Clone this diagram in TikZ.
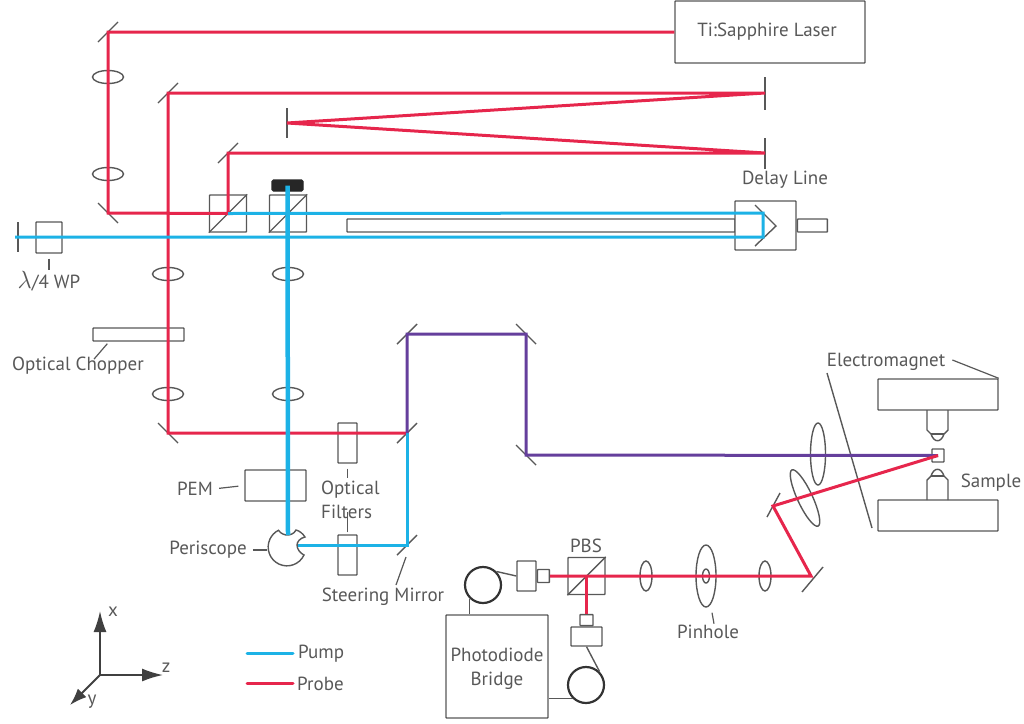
\documentclass[tikz,border=0pt]{standalone}
\usepackage{amsmath,amssymb}
\usepackage{fontspec}
\setmainfont{PT Sans}
\usepackage{tikz}
\usetikzlibrary{arrows.meta, shapes.geometric, positioning, calc}
\definecolor{probered}{HTML}{E6264C}
\definecolor{pumpblue}{HTML}{1CB2E6}
\definecolor{mixpurple}{HTML}{653F9C}
\definecolor{partgray}{HTML}{585858}

\begin{document}
\begin{tikzpicture}[
    x=1pt, y=-1pt,
    box/.style={draw=partgray, line width=1.4pt, inner sep=0pt, rounded corners=0.6pt},
    lens/.style={ellipse, draw=partgray, line width=1.4pt, inner sep=0pt},
    coil/.style={circle, draw=black!80, line width=2.2pt, fill=white, inner sep=0pt, minimum size=36pt},
    part/.style={draw=partgray, line width=1.4pt},
    mirror/.style={draw=partgray, line width=1.4pt},
    leader/.style={draw=partgray, line width=1.2pt},
    probe/.style={draw=probered, line width=3pt},
    pump/.style={draw=pumpblue, line width=3pt},
    pumpthick/.style={draw=pumpblue, line width=4.5pt},
    mixed/.style={draw=mixpurple, line width=3pt},
    lbl/.style={font=\fontsize{19}{24.5}\selectfont, text=partgray, inner sep=0pt}
]
    \useasboundingbox (0,0) rectangle (1024,723);

    % beam turning points
    \coordinate (mTopLeft) at (108,32);
    \coordinate (mLowLeft) at (108,213);
    \coordinate (mCubeUp) at (228,153);
    \coordinate (mDelayA) at (765,93);
    \coordinate (mDelayB) at (765,153);
    \coordinate (mFold) at (287,123);
    \coordinate (mUp) at (168,93);
    \coordinate (mDown) at (168,433);
    \coordinate (mSteerA) at (407,433);
    \coordinate (mSteerB) at (407,545);
    \coordinate (mMixA) at (407,334);
    \coordinate (mMixB) at (526,334);
    \coordinate (mMixC) at (526,455);
    \coordinate (mBackA) at (773,506);
    \coordinate (mBackB) at (811,576);
    \coordinate (pumpStart) at (15,237);
    \coordinate (retroA) at (763,237);
    \coordinate (retroB) at (763,213);
    \coordinate (periTop) at (288,535);
    \coordinate (periSide) at (298,545);

    % mirrors
    \foreach \m in {mTopLeft,mCubeUp,mUp,mSteerA,mSteerB,mMixA}
        \draw[mirror] ($(\m)+(-10,10)$) -- ($(\m)+(10,-10)$);
    \foreach \m in {mLowLeft,mDown,mMixB,mMixC}
        \draw[mirror] ($(\m)+(-10,-10)$) -- ($(\m)+(10,10)$);
    \draw[mirror] (mDelayA)+(0,-16) -- +(0,17);
    \draw[mirror] (mDelayB)+(0,-15) -- +(0,16);
    \draw[mirror] (mFold)+(0,-15) -- +(0,15);
    \draw[mirror] (18,222) -- (18,252);
    \draw[mirror] ($(mBackA)+(-6,11)$) -- ($(mBackA)+(7,-13)$);
    \draw[mirror] ($(mBackB)+(-9,16)$) -- ($(mBackB)+(12,-9)$);

    % lenses
    \foreach \n/\p in {lensA/{108,77},lensB/{108,174},lensC/{168,274},lensD/{288,274},lensE/{168,394},lensF/{288,394}}
        \node[lens, minimum width=31pt, minimum height=13pt] (\n) at (\p) {};
    \node[lens, minimum width=15pt, minimum height=62pt] (lensG) at (818,454) {};
    \node[lens, minimum width=15pt, minimum height=62pt, rotate=25] (lensH) at (805,498) {};
    \node[lens, minimum width=12pt, minimum height=30pt] (lensI) at (646,576) {};
    \node[lens, minimum width=12pt, minimum height=30pt] (lensJ) at (765,576) {};
    \node[lens, minimum width=20pt, minimum height=62pt] (pinhole) at (706,576) {};
    \node[lens, minimum width=7pt, minimum height=14pt] (pinholeIn) at (706,576) {};

    % boxes
    \node[box, minimum width=190pt, minimum height=62pt] (laser) at (770,32) {};
    \node[lbl] (laserlbl) at (767,32) {Ti:Sapphire Laser};
    \node[box, minimum width=26pt, minimum height=31pt] (plate) at (49,237.5) {};
    \node[box, minimum width=37pt, minimum height=37pt] (cubeA) at (228,213.5) {};
    \node[box, minimum width=37pt, minimum height=37pt] (cubeB) at (288,213.5) {};
    \node[box, minimum width=37pt, minimum height=37pt] (pbs) at (586.5,576) {};
    \foreach \c in {cubeA,cubeB,pbs}
        \draw[part] (\c.south west) -- (\c.north east);
    \node[box, fill=black!85, draw=black!85, rounded corners=1.5pt, minimum width=31pt, minimum height=11pt] (dump) at (287.5,185.5) {};
    \node[box, minimum width=91pt, minimum height=13pt] (chopper) at (138.5,334.5) {};
    \node[box, minimum width=388pt, minimum height=13pt] (rod) at (541,225.5) {};
    \node[box, fill=white, minimum width=61pt, minimum height=49pt] (stage) at (765.5,225.5) {};
    \node[box, minimum width=30pt, minimum height=13pt, anchor=west] (rodEnd) at (stage.east) {};
    \draw[part] (755,205) -- (776,226) -- (755,246);
    \node[box, minimum width=61pt, minimum height=31pt] (pem) at (275.5,485.5) {};
    \node[box, minimum width=19pt, minimum height=40pt] (filterA) at (347.5,443) {};
    \node[box, minimum width=19pt, minimum height=40pt] (filterB) at (347.5,555) {};

    % electromagnet and objectives
    \node[box, minimum width=120pt, minimum height=31pt] (poleTop) at (938,394.5) {};
    \node[box, minimum width=120pt, minimum height=31pt] (poleLow) at (938,515.5) {};
    \node[box, minimum width=12pt, minimum height=13pt] (sample) at (938,455.5) {};
    \draw[part] (927,410) -- (927,430) -- (931,434) .. controls (934,443) and (941,443) .. (944,434) -- (948,430) -- (948,410);
    \draw[part] (931,434) -- (944,434);
    \draw[part] (927,500) -- (927,480) -- (931,476) .. controls (934,467) and (941,467) .. (944,476) -- (948,480) -- (948,500);
    \draw[part] (931,476) -- (944,476);
    \draw[part] (827,373) -- (872,528);

    % photodiode side
    \node[box, minimum width=102pt, minimum height=103pt] (bridge) at (497,666.5) {};
    \node[lbl, align=center] (bridgelbl) at (497,669) {Photodiode\\Bridge};
    \node[box, minimum width=19pt, minimum height=30pt] (detA) at (526.5,576) {};
    \node[box, minimum width=12pt, minimum height=13pt, anchor=west] (noseA) at (detA.east) {};
    \node[box, minimum width=31pt, minimum height=19pt] (detB) at (586.5,636.5) {};
    \node[box, minimum width=13pt, minimum height=11pt, anchor=south] (noseB) at (detB.north) {};
    \node[coil] (coilA) at (483,585) {};
    \node[coil] (coilB) at (586,685) {};
    \draw[part] (coilA.north east) -- (detA.west);
    \draw[part] (coilA.south west) -- (coilA.south west |- bridge.north);
    \draw[part] (detB.south) -- (coilB.north east);
    \draw[part] (bridge.east |- coilB.south west) -- (coilB.south west);

    % periscope
    \draw[part, fill=white] (304,555) arc[start angle=25, end angle=243, radius=18.8] .. controls (281,534) and (285,535) .. (287,535) .. controls (290,535) and (294,534) .. (296,530) .. controls (300,531) and (303,534) .. (305,537) .. controls (300,538) and (297,542) .. (297,545) .. controls (297,549) and (300,553) .. (304,555) -- cycle;

    % beams
    \draw[probe] (laser.west) -- (mTopLeft) -- (mLowLeft) -- (cubeA.center) -- (mCubeUp) -- (mDelayB) -- (mFold) -- (mDelayA) -- (mUp) -- (mDown) -- (mSteerA);
    \draw[pump] (pumpStart) -- (retroA) -- (retroB) -- (cubeA.center);
    \draw[pumpthick] (dump.center) -- (periTop);
    \draw[pump] (periSide) -- (mSteerB) -- (mSteerA);
    \draw[mixed] (mSteerA) -- (mMixA) -- (mMixB) -- (mMixC) -- (sample.center);
    \draw[probe] (sample.center) -- (mBackA) -- (mBackB) -- (noseA.east);
    \draw[probe] (pbs.center) -- (noseB.north);

    % labels
    \node[lbl] (platelbl) at (49,281) {{\fontsize{25}{25}\selectfont$\lambda$}/4 WP};
    \node[lbl] (chopperlbl) at (78,366) {Optical Chopper};
    \node[lbl] (delaylbl) at (785,180) {Delay Line};
    \node[lbl] (pemlbl) at (195,489) {PEM};
    \node[lbl, align=left, anchor=west] (filterlbl) at (321,500) {Optical\\Filters};
    \node[lbl] (perilbl) at (208,550) {Periscope};
    \node[lbl] (steerlbl) at (383,597) {Steering Mirror};
    \node[lbl] (pbslbl) at (586,546) {PBS};
    \node[lbl] (pinholelbl) at (708,632) {Pinhole};
    \node[lbl] (magnetlbl) at (886,362) {Electromagnet};
    \node[lbl] (samplelbl) at (991,483) {Sample};

    % leaders
    \draw[leader] ($(plate.south)+(0,5)$) -- ($(plate.south)+(0,16)$);
    \draw[leader] ($(chopper.south west)+(15,2)$) -- ($(chopperlbl.north)+(16,2)$);
    \draw[leader, shorten >=6pt, shorten <=6pt] (pemlbl.east) -- (pem.west);
    \draw[leader] ($(perilbl.east)+(6,0)$) -- ($(perilbl.east)+(20,0)$);
    \draw[leader] ($(filterA.south)+(0,5)$) -- ($(filterA.south)+(0,14)$);
    \draw[leader] ($(filterB.north)+(0,-2)$) -- ($(filterB.north)+(0,-22)$);
    \draw[leader] ($(mSteerB)+(-1,12)$) -- ($(mSteerB)+(-11,40)$);
    \draw[leader] ($(pinhole.south)+(6,5)$) -- ($(pinhole.south)+(8,16)$);
    \draw[leader] ($(magnetlbl.east)+(7,-2)$) -- (poleTop.north east);

    % legend and axes
    \node[lbl, anchor=west] (pumplbl) at (298,654) {Pump};
    \node[lbl, anchor=west] (probelbl) at (297,684) {Probe};
    \coordinate (legPump) at (247,653);
    \coordinate (legProbe) at (247,683);
    \draw[pump, line cap=round] (legPump) -- ($(pumplbl.west)+(-5,-1)$);
    \draw[probe, line cap=round] (legProbe) -- ($(probelbl.west)+(-4,-1)$);
    \coordinate (origin) at (100,675);
    \coordinate (axisX) at (100,611);
    \coordinate (axisZ) at (163,675);
    \coordinate (axisY) at (70,705);
    \draw[draw=black!75, fill=black!75, line width=1.8pt, -{Latex[length=21pt,width=13pt]}] (origin) -- (axisX);
    \draw[draw=black!75, fill=black!75, line width=1.8pt, -{Latex[length=21pt,width=13pt]}] (origin) -- (axisZ);
    \draw[draw=black!75, fill=black!75, line width=1.8pt, -{Latex[length=17pt,width=12pt]}] (origin) -- (axisY);
    \node[lbl] (xlbl) at (113,612) {x};
    \node[lbl] (zlbl) at (166,668) {z};
    \node[lbl] (ylbl) at (92,702) {y};
\end{tikzpicture}
\end{document}
